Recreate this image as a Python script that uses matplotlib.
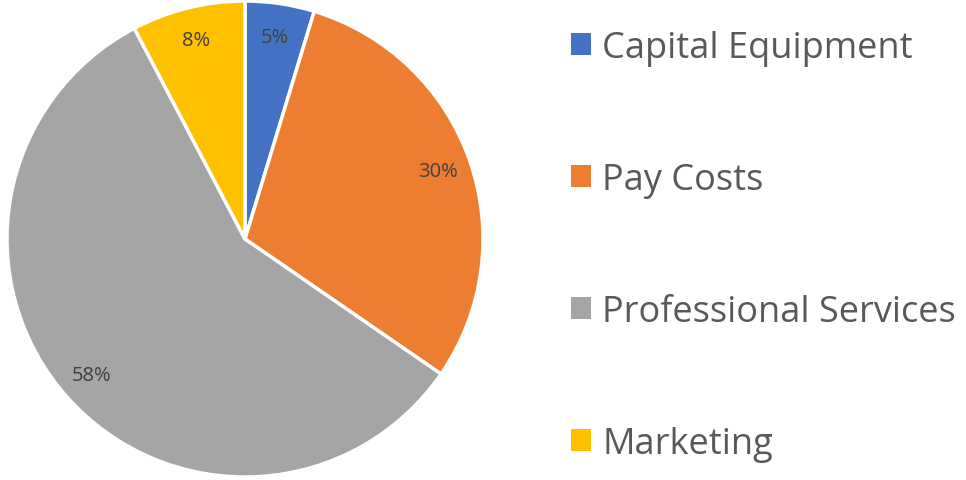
import matplotlib.pyplot as plt
from matplotlib.patches import Patch

plt.rcParams["font.family"] = ["Open Sans", "DejaVu Sans"]

# Budget shares (percent)
categories = ["Capital Equipment", "Pay Costs", "Professional Services", "Marketing"]
shares = [4.7, 29.9, 57.7, 7.7]
colors = ["#4472C4", "#ED7D31", "#A5A5A5", "#FFC000"]

fig = plt.figure(figsize=(9.66, 4.81), dpi=100)
ax = fig.add_axes([7 / 966, 3 / 481, 476 / 966, 476 / 481])

wedges, texts, autotexts = ax.pie(
    shares,
    colors=colors,
    startangle=90,
    counterclock=False,
    autopct=lambda p: f"{p:.0f}%",
    pctdistance=0.86,
    wedgeprops=dict(edgecolor="white", linewidth=2.5),
    textprops=dict(color="#404040", fontsize=14.5),
)
ax.set_xlim(-1.0, 1.0)
ax.set_ylim(-1.0, 1.0)
ax.set_aspect("equal")

handles = [Patch(facecolor=c, edgecolor="none") for c in colors]
fig.legend(
    handles, categories,
    loc="upper left", bbox_to_anchor=(571 / 966, 1 - 31 / 481),
    frameon=False, fontsize=26, labelcolor="#595959",
    handlelength=0.56, handleheight=0.56, handletextpad=0.3,
    labelspacing=2.66, borderaxespad=0, borderpad=0,
)

fig.savefig("out.png", dpi=100)
